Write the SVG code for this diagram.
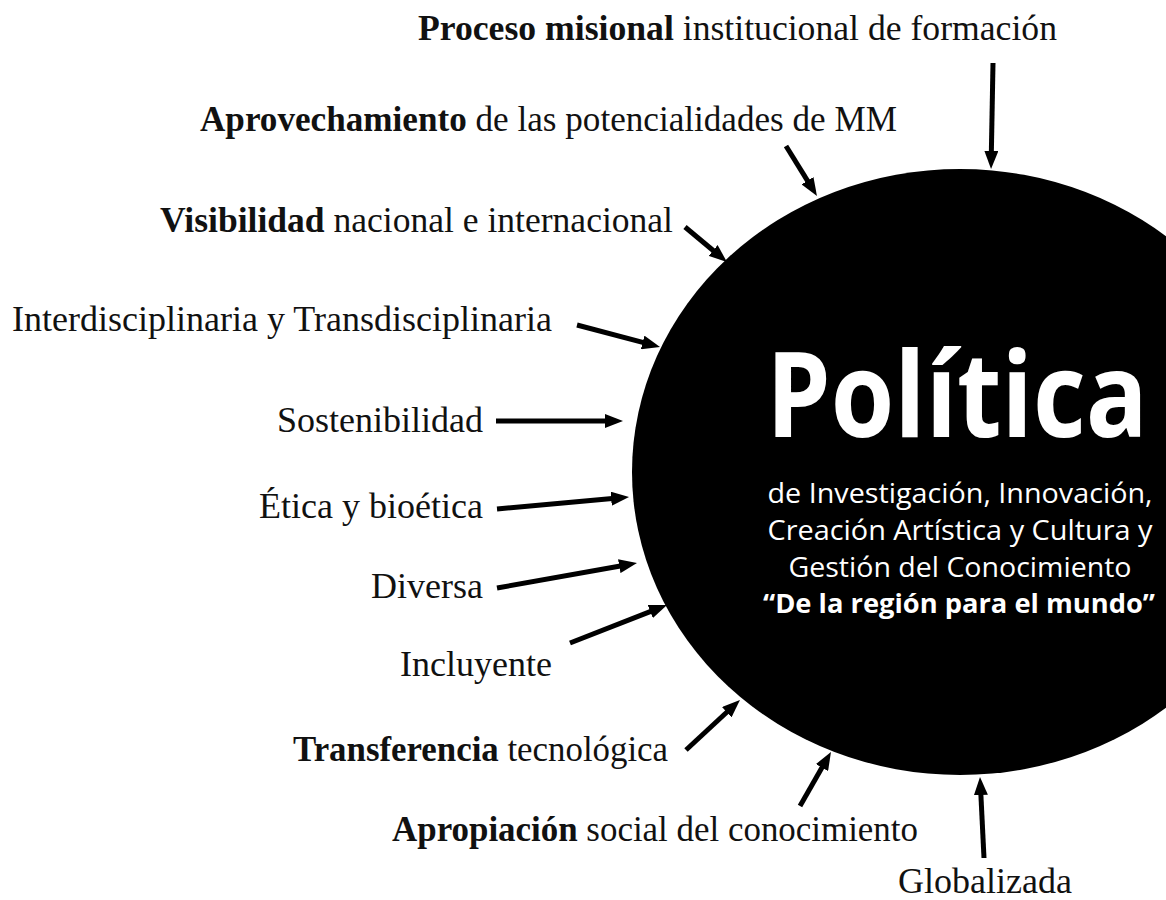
<svg xmlns="http://www.w3.org/2000/svg" width="1166" height="900" viewBox="0 0 1166 900">
  <defs>
    <marker id="ah" viewBox="0 0 18 14" markerWidth="18" markerHeight="14" refX="4" refY="7" markerUnits="userSpaceOnUse" orient="auto">
      <path d="M0,0 L18,7 L0,14 z" fill="#000"/>
    </marker>
    <style>
      .lbl { font-family: "Liberation Serif", "Times New Roman", serif; font-size: 36px; fill: #111; }
      .b { font-weight: bold; }
      .conn line { stroke: #000; stroke-width: 5; marker-end: url(#ah); }
      .ctitle, .csub { font-family: "Open Sans", "Noto Sans", sans-serif; fill: #fff; }
      .ctitle { font-weight: bold; font-size: 118px; }
      .csub { font-size: 27px; }
    </style>
  </defs>
  <rect width="1166" height="900" fill="#fff"/>

  <g id="politica">
    <ellipse cx="960" cy="472" rx="328" ry="303" fill="#000"/>
    <text class="ctitle" transform="translate(957,437) scale(0.9,1)" x="0" y="0" text-anchor="middle" textLength="424" lengthAdjust="spacingAndGlyphs">Política</text>
    <text class="csub" x="960" y="503" text-anchor="middle" textLength="385" lengthAdjust="spacingAndGlyphs">de Investigación, Innovación,</text>
    <text class="csub" x="960" y="540" text-anchor="middle" textLength="385" lengthAdjust="spacingAndGlyphs">Creación Artística y Cultura y</text>
    <text class="csub" x="960" y="577" text-anchor="middle" textLength="343" lengthAdjust="spacingAndGlyphs">Gestión del Conocimiento</text>
    <text class="csub" x="959" y="613" text-anchor="middle" font-weight="bold" textLength="392" lengthAdjust="spacingAndGlyphs">“De la región para el mundo”</text>
  </g>

  <g id="proceso"><text class="lbl" x="418" y="40" textLength="639" lengthAdjust="spacingAndGlyphs"><tspan class="b">Proceso misional</tspan> institucional de formación</text></g>
  <g id="aprovechamiento"><text class="lbl" x="200" y="131" textLength="697" lengthAdjust="spacingAndGlyphs"><tspan class="b">Aprovechamiento</tspan> de las potencialidades de MM</text></g>
  <g id="visibilidad"><text class="lbl" x="160" y="232" textLength="513" lengthAdjust="spacingAndGlyphs"><tspan class="b">Visibilidad</tspan> nacional e internacional</text></g>
  <g id="interdisciplinaria"><text class="lbl" x="12" y="331">Interdisciplinaria y Transdisciplinaria</text></g>
  <g id="sostenibilidad"><text class="lbl" x="483" y="432" text-anchor="end">Sostenibilidad</text></g>
  <g id="etica"><text class="lbl" x="483" y="518" text-anchor="end">Ética y bioética</text></g>
  <g id="diversa"><text class="lbl" x="483" y="598" text-anchor="end">Diversa</text></g>
  <g id="incluyente"><text class="lbl" x="400" y="676">Incluyente</text></g>
  <g id="transferencia"><text class="lbl" x="293" y="761" textLength="375" lengthAdjust="spacingAndGlyphs"><tspan class="b">Transferencia</tspan> tecnológica</text></g>
  <g id="apropiacion"><text class="lbl" x="392" y="841" textLength="526" lengthAdjust="spacingAndGlyphs"><tspan class="b">Apropiación</tspan> social del conocimiento</text></g>
  <g id="globalizada"><text class="lbl" x="898" y="893">Globalizada</text></g>

  <g id="connectors" class="conn">
    <line x1="993" y1="63" x2="991.3" y2="155"/>
    <line x1="786" y1="146" x2="809.6" y2="184.1"/>
    <line x1="685" y1="227" x2="716.2" y2="253"/>
    <line x1="577" y1="325" x2="646.5" y2="343.4"/>
    <line x1="496" y1="421" x2="609" y2="421"/>
    <line x1="497" y1="509" x2="615.1" y2="498.3"/>
    <line x1="497" y1="588" x2="623.2" y2="565.5"/>
    <line x1="570" y1="643" x2="654" y2="610.1"/>
    <line x1="686" y1="750" x2="729.7" y2="709.5"/>
    <line x1="800" y1="806" x2="824" y2="764.1"/>
    <line x1="984" y1="858" x2="980.7" y2="791"/>
  </g>
</svg>
